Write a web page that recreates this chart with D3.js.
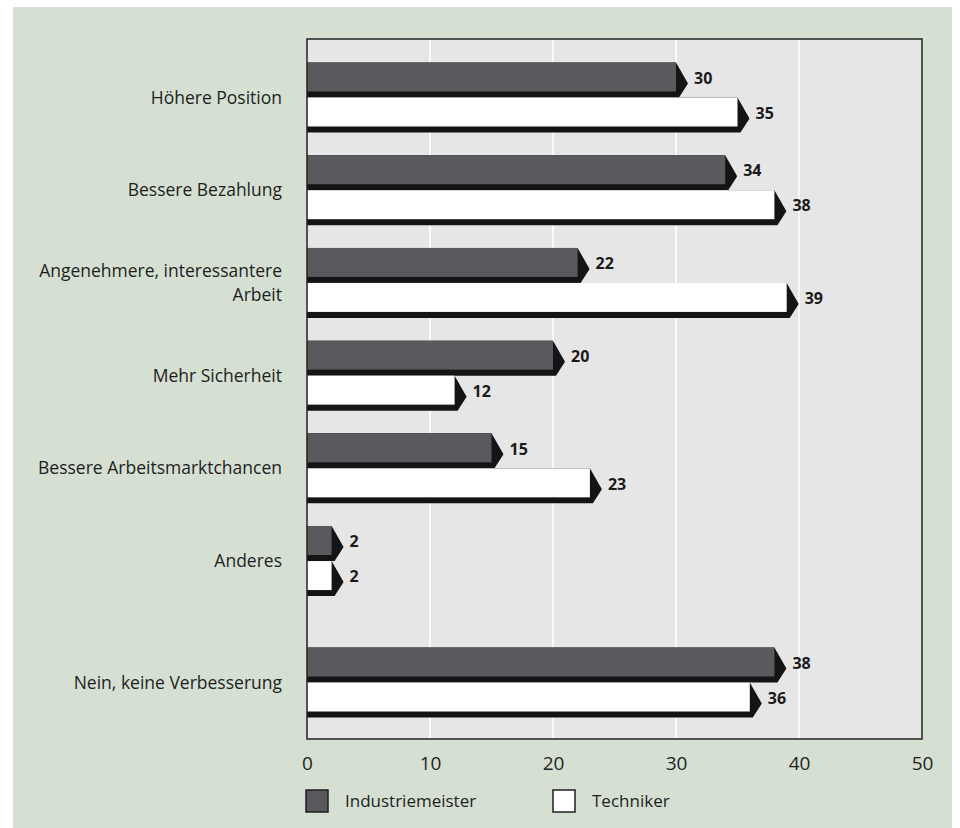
<!DOCTYPE html>
<html>
<head>
<meta charset="utf-8">
<script src="https://cdn.jsdelivr.net/npm/d3@7"></script>
<style>
    body { margin: 0; background: #fff; }
    svg text { font-family: "Open Sans", "Noto Sans", sans-serif; }
</style>
</head>
<body>
<div id="chart"></div>
<script>

// categories (top to bottom), label lines
let categories = [
    ["Höhere Position"],
    ["Bessere Bezahlung"],
    ["Angenehmere, interessantere", "Arbeit"],
    ["Mehr Sicherheit"],
    ["Bessere Arbeitsmarktchancen"],
    ["Anderes"],
    ["Nein, keine Verbesserung"]
];

let seriesNames = ["Industriemeister", "Techniker"];
let industriemeister = [30, 34, 22, 20, 15, 2, 38];
let techniker = [35, 38, 39, 12, 23, 2, 36];
let xTicks = [0, 10, 20, 30, 40, 50];

let width = 960, height = 828;

let svg = d3.select("#chart").append("svg")
    .attr("width", width)
    .attr("height", height);

// green panel
svg.append("rect")
    .attr("x", 13).attr("y", 7)
    .attr("width", 939).attr("height", height - 7)
    .attr("fill", "#d5e0d3");

let plot = {left: 307, right: 922, top: 39, bottom: 739};

let x = d3.scaleLinear()
    .domain([0, 50])
    .range([plot.left, plot.right]);

// group centre; the last group sits a bit further down
let slot = (i) => i === categories.length - 1 ? i + 0.31 : i;
let y = d3.scaleLinear()
    .domain([0, 6.31])
    .range([97.5, 682.5]);

let inner = d3.scaleBand()
    .domain(seriesNames)
    .range([-35, 35]);

let faceH = 29, shadow = 6;

// plot background
svg.append("rect")
    .attr("x", plot.left).attr("y", plot.top)
    .attr("width", plot.right - plot.left)
    .attr("height", plot.bottom - plot.top)
    .attr("fill", "#e6e6e6");

// white grid lines
svg.append("g")
    .selectAll("line")
    .data(xTicks.slice(1, -1))
    .enter()
    .append("line")
    .attr("x1", d => x(d)).attr("x2", d => x(d))
    .attr("y1", plot.top).attr("y2", plot.bottom)
    .attr("stroke", "#fafafa")
    .attr("stroke-width", 2);

// bars
let rows = [];
categories.forEach((c, i) => {
    rows.push({i: i, series: "Industriemeister", value: industriemeister[i], fill: "#5a5a5e"});
    rows.push({i: i, series: "Techniker", value: techniker[i], fill: "#ffffff"});
});

let bars = svg.append("g").selectAll("g.bar")
    .data(rows)
    .enter()
    .append("g")
    .attr("class", "bar");

bars.append("polygon")
    .attr("points", d => {
        let top = y(slot(d.i)) + inner(d.series);
        let x0 = x(0), xe = x(d.value);
        return [
            [x0, top], [xe, top], [xe + 12, top + 21],
            [xe + 3, top + faceH + shadow], [x0, top + faceH + shadow]
        ].map(p => p.join(",")).join(" ");
    })
    .attr("fill", "#141414");

bars.append("rect")
    .attr("x", x(0))
    .attr("y", d => y(slot(d.i)) + inner(d.series))
    .attr("width", d => x(d.value) - x(0))
    .attr("height", faceH)
    .attr("fill", d => d.fill);

bars.append("text")
    .attr("x", d => x(d.value) + 18)
    .attr("y", d => y(slot(d.i)) + inner(d.series) + 17)
    .attr("dominant-baseline", "middle")
    .attr("fill", "#1a1a1a")
    .style("font-size", "16px")
    .style("font-weight", "bold")
    .text(d => d.value);

// plot frame
svg.append("rect")
    .attr("x", plot.left).attr("y", plot.top)
    .attr("width", plot.right - plot.left)
    .attr("height", plot.bottom - plot.top)
    .attr("fill", "none")
    .attr("stroke", "#222")
    .attr("stroke-width", 1.5);

// category labels
let catLabels = svg.append("g").selectAll("text")
    .data(categories)
    .enter()
    .append("text")
    .attr("x", 282)
    .attr("y", (d, i) => y(slot(i)))
    .attr("text-anchor", "end")
    .attr("fill", "#1e1e1e")
    .style("font-size", "17.5px");

catLabels.selectAll("tspan")
    .data(d => d.map((t, k) => ({t: t, k: k, n: d.length})))
    .enter()
    .append("tspan")
    .attr("x", 282)
    .attr("dy", d => d.k === 0 ? (-(d.n - 1) * 12 + 6) + "px" : "24px")
    .text(d => d.t);

// x axis
let xAxis = d3.axisBottom(x)
    .tickValues(xTicks)
    .tickSize(0)
    .tickPadding(0);

let axisG = svg.append("g")
    .attr("transform", `translate(0, ${plot.bottom + 17})`)
    .call(xAxis);
axisG.select(".domain").remove();
axisG.selectAll("text")
    .style("font-size", "19px")
    .style("font-family", "'Open Sans', sans-serif")
    .attr("fill", "#1e1e1e");

// legend
let legendX = [306, 553];
let legend = svg.append("g").selectAll("g")
    .data(seriesNames)
    .enter()
    .append("g")
    .attr("transform", (d, i) => `translate(${legendX[i]}, 790)`);

legend.append("rect")
    .attr("width", 22).attr("height", 22)
    .attr("fill", (d, i) => i === 0 ? "#5a5a5e" : "#ffffff")
    .attr("stroke", "#1e1e1e")
    .attr("stroke-width", 1.5);

legend.append("text")
    .attr("x", 39)
    .attr("y", 12)
    .attr("dominant-baseline", "middle")
    .attr("fill", "#1e1e1e")
    .style("font-size", "17px")
    .text(d => d);

</script>
</body>
</html>
